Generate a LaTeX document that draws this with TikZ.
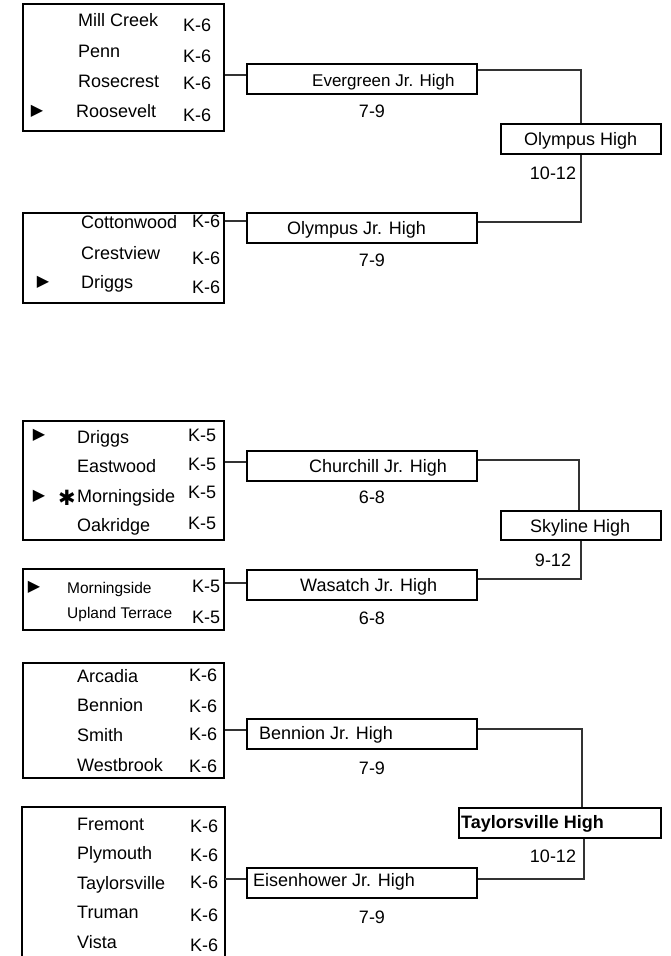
\documentclass[tikz,border=0pt]{standalone}
\usepackage{fontspec}
\setmainfont{Liberation Sans}
\newfontfamily\symfont{DejaVu Sans}
\begin{document}
\begin{tikzpicture}[x=1pt,y=-1pt,
  lt/.style={inner sep=0pt,anchor=base west,font=\fontsize{18}{18}\selectfont},
  st/.style={inner sep=0pt,anchor=base west,font=\fontsize{15.5}{15.5}\selectfont},
  gr/.style={inner sep=0pt,anchor=base,font=\fontsize{18}{18}\selectfont},
  box/.style={draw,line width=1.8pt,rectangle,inner sep=0pt},
  grp/.style={box,minimum width=201pt},
  jr/.style={box,minimum width=230pt,minimum height=30pt},
  conn/.style={line width=1.1pt,draw=black!80},
  ptr/.style={inner sep=0pt,font=\symfont\fontsize{16}{16}\selectfont},
  star/.style={inner sep=0pt,font=\symfont\fontsize{21}{21}\selectfont},
]
\useasboundingbox (0,0) rectangle (670,956);

% ---------- group boxes ----------
\node[grp,minimum height=127pt] (g1) at (123.5,67.5) {};
\node[grp,minimum height=90pt] (g2) at (123.5,258) {};
\node[grp,minimum height=119pt] (g3) at (123.5,480.5) {};
\node[grp,minimum height=61pt] (g4) at (123.5,599.5) {};
\node[grp,minimum height=115pt] (g5) at (123.5,720.5) {};
\node[grp,draw=none,minimum height=152pt] (g6) at (123.5,884) {};
\draw[line width=1.8pt] (g6.south west) |- (g6.north east) -- (g6.south east);

% ---------- junior high boxes ----------
\node[jr] (ev) at (362,79) {};
\node[jr] (oj) at (362,228) {};
\node[jr] (ch) at (362,466) {};
\node[jr] (wa) at (362,585) {};
\node[jr] (bj) at (362,734) {};
\node[jr] (eh) at (362,883) {};

% ---------- high school boxes ----------
\node[box,minimum width=160pt,minimum height=30pt] (oh) at (581,139) {};
\node[box,minimum width=160pt,minimum height=29pt] (sk) at (581,525.5) {};
\node[box,minimum width=202pt,minimum height=30pt] (tv) at (560,823) {};

% ---------- box labels ----------
\node[lt,font=\fontsize{17}{17}\selectfont] (evt) at (312,86) {Evergreen Jr. High};
\node[lt] (ojt) at (287,234) {Olympus Jr. High};
\node[lt] (oht) at (524,145) {Olympus High};
\node[lt] (cht) at (309,472) {Churchill Jr. High};
\node[lt] (wat) at (300,591) {Wasatch Jr. High};
\node[lt] (skt) at (530,532) {Skyline High};
\node[lt] (bjt) at (259,739) {Bennion Jr. High};
\node[lt] (eht) at (253,886) {Eisenhower Jr. High};
\node[lt,font=\fontsize{18}{18}\selectfont\bfseries] (tvt) at (461,828) {Taylorsville High};

% ---------- grade labels ----------
\node[gr] (evg) at (372,117) {7-9};
\node[gr] (ohg) at (553,179) {10-12};
\node[gr] (ojg) at (372,266) {7-9};
\node[gr] (chg) at (372,503) {6-8};
\node[gr] (skg) at (553,566) {9-12};
\node[gr] (wag) at (372,624) {6-8};
\node[gr] (bjg) at (372,774) {7-9};
\node[gr] (tvg) at (553,862) {10-12};
\node[gr] (ehg) at (372,923) {7-9};

% ---------- group 1 ----------
\node[lt] (a1) at (78,26) {Mill Creek};   \node[lt] (a1k) at (183,31) {K-6};
\node[lt] (a2) at (78,57) {Penn};         \node[lt] (a2k) at (183,62) {K-6};
\node[lt] (a3) at (78,87) {Rosecrest};    \node[lt] (a3k) at (183,89) {K-6};
\node[lt] (a4) at (76,117) {Roosevelt};   \node[lt] (a4k) at (183,121) {K-6};
\node[ptr] (a4p) at (37,111) {▶};

% ---------- group 2 ----------
\node[lt] (b1) at (81,228) {Cottonwood};  \node[lt] (b1k) at (192,227) {K-6};
\node[lt] (b2) at (81,259) {Crestview};   \node[lt] (b2k) at (192,264) {K-6};
\node[lt] (b3) at (81,288) {Driggs};      \node[lt] (b3k) at (192,293) {K-6};
\node[ptr] (b3p) at (43,282) {▶};

% ---------- group 3 ----------
\node[lt] (c1) at (77,443) {Driggs};      \node[lt] (c1k) at (188,441) {K-5};
\node[lt] (c2) at (77,472) {Eastwood};    \node[lt] (c2k) at (188,470) {K-5};
\node[lt] (c3) at (77,502) {Morningside}; \node[lt] (c3k) at (188,498) {K-5};
\node[lt] (c4) at (77,531) {Oakridge};    \node[lt] (c4k) at (188,529) {K-5};
\node[ptr] (c1p) at (39,435) {▶};
\node[ptr] (c3p) at (39,496) {▶};
\node[star] (c3s) at (67,498) {✱};

% ---------- group 4 ----------
\node[st] (d1) at (67,593) {Morningside};    \node[lt] (d1k) at (192,592) {K-5};
\node[st] (d2) at (67,618) {Upland Terrace}; \node[lt] (d2k) at (192,623) {K-5};
\node[ptr] (d1p) at (34,587) {▶};

% ---------- group 5 ----------
\node[lt] (e1) at (77,682) {Arcadia};     \node[lt] (e1k) at (189,681) {K-6};
\node[lt] (e2) at (77,711) {Bennion};     \node[lt] (e2k) at (189,712) {K-6};
\node[lt] (e3) at (77,741) {Smith};       \node[lt] (e3k) at (189,740) {K-6};
\node[lt] (e4) at (77,771) {Westbrook};   \node[lt] (e4k) at (189,772) {K-6};

% ---------- group 6 ----------
\node[lt] (f1) at (77,830) {Fremont};      \node[lt] (f1k) at (190,832) {K-6};
\node[lt] (f2) at (77,859) {Plymouth};     \node[lt] (f2k) at (190,861) {K-6};
\node[lt] (f3) at (77,889) {Taylorsville}; \node[lt] (f3k) at (190,888) {K-6};
\node[lt] (f4) at (77,918) {Truman};       \node[lt] (f4k) at (190,921) {K-6};
\node[lt] (f5) at (77,948) {Vista};        \node[lt] (f5k) at (190,951) {K-6};

% ---------- connectors ----------
\coordinate (k1) at ([yshift=4pt]ev.west);
\draw[conn] (g1.east |- k1) -- (k1);
\coordinate (k2) at ([yshift=7pt]oj.west);
\draw[conn] (g2.east |- k2) -- (k2);
\draw[conn] ([yshift=9pt]ev.east) -| (oh.north);
\draw[conn] (oh.south) |- ([yshift=6pt]oj.east);

\coordinate (k3) at ([yshift=4pt]ch.west);
\draw[conn] (g3.east |- k3) -- (k3);
\coordinate (k4) at ([yshift=2pt]wa.west);
\draw[conn] (g4.east |- k4) -- (k4);
\draw[conn] ([yshift=6pt]ch.east) -| ([xshift=-2pt]sk.north);
\draw[conn] (sk.south) |- ([yshift=6pt]wa.east);

\coordinate (k5) at ([yshift=4pt]bj.west);
\draw[conn] (g5.east |- k5) -- (k5);
\coordinate (k6) at ([yshift=4pt]eh.west);
\draw[conn] (g6.east |- k6) -- (k6);
\draw[conn] ([yshift=5pt]bj.east) -| ([xshift=22pt]tv.north);
\draw[conn] ([xshift=24pt]tv.south) |- ([yshift=4pt]eh.east);
\end{tikzpicture}
\end{document}
